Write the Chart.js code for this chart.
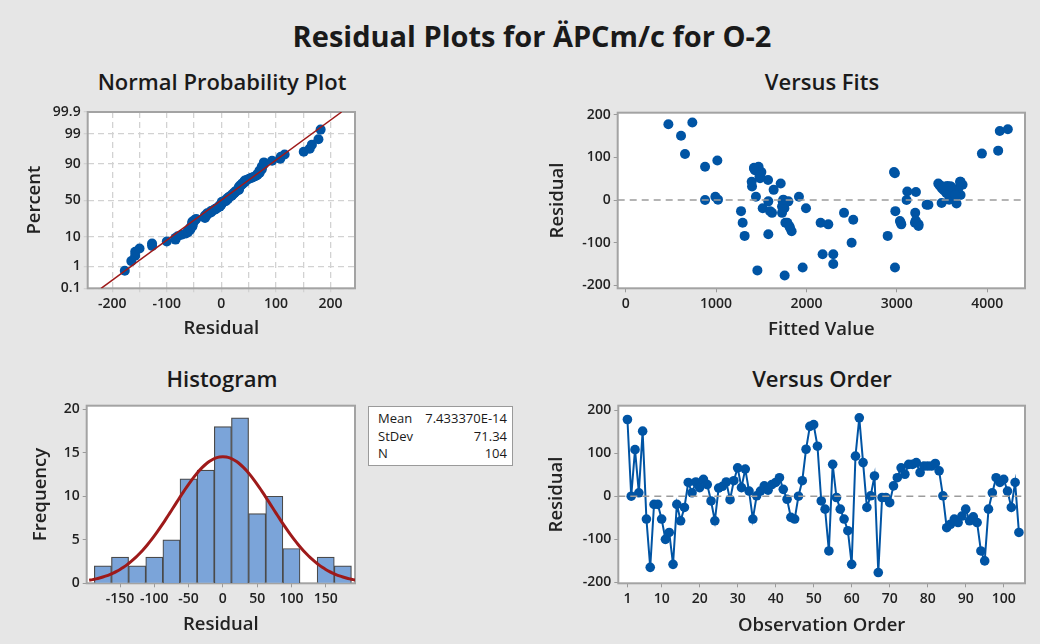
<!DOCTYPE html>
<html>
<head>
<meta charset="utf-8">
<script src="https://cdn.jsdelivr.net/npm/chart.js@4.4.1/dist/chart.umd.min.js"></script>
<style>
    body { margin: 0; background: #e6e6e6; font-family: "Open Sans", sans-serif; }
    #wrap { position: relative; width: 1040px; height: 644px; overflow: hidden; }
    canvas { position: absolute; }
    .title { position: absolute; transform: translateX(-50%); white-space: nowrap; color: #1a1a1a; }
    #mainTitle { left: 532px; top: 16px; font-size: 29px; font-weight: 700; }
    .panel { font-size: 22px; font-weight: 600; }
    #stats { position: absolute; left: 368px; top: 406px; width: 143px; height: 58px; background: #fff;
             border: 1px solid #9a9a9a; font-size: 13px; color: #1a1a1a; }
    #stats div { position: absolute; left: 9px; right: 5px; height: 17px; }
    #stats span { position: absolute; right: 0; }
</style>
</head>
<body>
<div id="wrap">
    <div id="mainTitle" class="title">Residual Plots for ÄPCm/c for O-2</div>
    <div class="title panel" style="left:222px;top:66px">Normal Probability Plot</div>
    <div class="title panel" style="left:822px;top:66px">Versus Fits</div>
    <div class="title panel" style="left:222px;top:363px">Histogram</div>
    <div class="title panel" style="left:822px;top:363px">Versus Order</div>

    <canvas id="normChart" width="350" height="245" style="left:20px;top:100px"></canvas>
    <canvas id="fitsChart" width="500" height="245" style="left:540px;top:100px"></canvas>
    <canvas id="histChart" width="350" height="250" style="left:20px;top:390px"></canvas>
    <canvas id="orderChart" width="500" height="250" style="left:540px;top:390px"></canvas>

    <div id="stats">
        <div style="top:2px">Mean<span id="meanTxt"></span></div>
        <div style="top:20px">StDev<span id="sdTxt"></span></div>
        <div style="top:37px">N<span id="nTxt"></span></div>
    </div>
</div>
<script>
// residuals in observation order
const residuals = [178, 0, 108, 8, 151, -53, -165, -19, -19, -53,
    -100, -84, -158, -19, -57, -26, 32, 8, 33, 20,
    39, 27, -11, -57, 19, 23, 33, -8, 36, 66,
    20, 63, 12, -53, 1, 12, 24, 14, 27, 32,
    43, 16, -7, -49, -53, 0, 36, 109, 162, 166,
    116, -11, -30, -127, 74, -3, -30, -53, -80, -158,
    93, 182, 78, -26, 1, 47, -177, -3, -3, -15,
    24, 43, 66, 51, 74, 74, 78, 55, 70, 70,
    70, 76, 59, 1, -73, -65, -53, -61, -46, -30,
    -57, -48, -61, -127, -150, -30, 8, 43, 32, 39,
    12, -26, 32, -84];

// fitted value for each observation
const fitted = [472, 878, 656, 992, 612, 1294, 1457, 1516, 1995, 2157,
    2500, 1316, 1958, 1756, 2242, 1276, 1398, 1441, 3480, 3116,
    3459, 3500, 3330, 3241, 3212, 3520, 3560, 3661, 3728, 2969,
    3540, 2979, 3600, 3043, 3580, 3706, 3620, 3640, 3680, 3600,
    3706, 3550, 3496, 3035, 3201, 3108, 3470, 3942, 4140, 4229,
    4122, 3350, 3204, 2179, 1464, 1578, 1619, 1789, 1578, 2980,
    1014, 737, 878, 1597, 1021, 1575, 1759, 1800, 1737, 1730,
    1637, 1394, 1501, 1486, 1420, 1440, 1470, 1480, 1430, 1450,
    1460, 1420, 1490, 1744, 1836, 1818, 1767, 1810, 2518, 2416,
    3050, 3210, 3240, 2297, 2297, 1730, 1917, 3700, 3590, 1715,
    3650, 2984, 3520, 2899];

// histogram bins (centres) and counts
const binCenters = [-175, -150, -125, -100, -75, -50, -25, 0, 25, 50, 75, 100, 125, 150, 175];
const binCounts = [2, 3, 2, 3, 5, 12, 13, 18, 19, 8, 10, 4, 0, 3, 2];
const binWidth = 25;

// summary stats
const meanVal = 7.433370e-14;
const stdevVal = 71.34;
const nObs = 104;

// tick labels
const probTicks = [0.1, 1, 10, 50, 90, 99, 99.9];
const normXTicks = [-200, -100, 0, 100, 200];
const normXGrid = [-200, -150, -100, -50, 0, 50, 100, 150, 200];
const residTicks = [-200, -100, 0, 100, 200];
const fitsTicks = [0, 1000, 2000, 3000, 4000];
const histXTicks = [-150, -100, -50, 0, 50, 100, 150];
const histYTicks = [0, 5, 10, 15, 20];
const orderTicks = [1, 10, 20, 30, 40, 50, 60, 70, 80, 90, 100];

document.getElementById('meanTxt').textContent = '7.433370E-14';
document.getElementById('sdTxt').textContent = stdevVal.toFixed(2);
document.getElementById('nTxt').textContent = nObs;

const BLUE = '#0054a4';
const RED = '#9e1a1a';

// inverse normal (Acklam)
function probit(p) {
    const a = [-3.969683028665376e+01, 2.209460984245205e+02, -2.759285104469687e+02, 1.383577518672690e+02, -3.066479806614716e+01, 2.506628277459239e+00];
    const b = [-5.447609879822406e+01, 1.615858368580409e+02, -1.556989798598866e+02, 6.680131188771972e+01, -1.328068155288572e+01];
    const c = [-7.784894002430293e-03, -3.223964580411365e-01, -2.400758277161838e+00, -2.549732539343734e+00, 4.374664141464968e+00, 2.938163982698783e+00];
    const d = [7.784695709041462e-03, 3.224671290700398e-01, 2.445134137142996e+00, 3.754408661907416e+00];
    const pl = 0.02425;
    if (p < pl) {
        const q = Math.sqrt(-2 * Math.log(p));
        return (((((c[0] * q + c[1]) * q + c[2]) * q + c[3]) * q + c[4]) * q + c[5]) / ((((d[0] * q + d[1]) * q + d[2]) * q + d[3]) * q + 1);
    }
    if (p > 1 - pl) {
        const q = Math.sqrt(-2 * Math.log(1 - p));
        return -(((((c[0] * q + c[1]) * q + c[2]) * q + c[3]) * q + c[4]) * q + c[5]) / ((((d[0] * q + d[1]) * q + d[2]) * q + d[3]) * q + 1);
    }
    const q = p - 0.5, r = q * q;
    return (((((a[0] * r + a[1]) * r + a[2]) * r + a[3]) * r + a[4]) * r + a[5]) * q / (((((b[0] * r + b[1]) * r + b[2]) * r + b[3]) * r + b[4]) * r + 1);
}

// white plot area + grey frame
const framePlugin = {
    id: 'frame',
    beforeDraw(chart) {
        const a = chart.chartArea, ctx = chart.ctx;
        ctx.save();
        ctx.fillStyle = '#fff';
        ctx.fillRect(a.left, a.top, a.right - a.left, a.bottom - a.top);
        ctx.restore();
    },
    beforeDatasetsDraw(chart) {
        const a = chart.chartArea, ctx = chart.ctx;
        ctx.save();
        ctx.strokeStyle = '#a3a3a3';
        ctx.lineWidth = 2;
        ctx.strokeRect(a.left, a.top, a.right - a.left, a.bottom - a.top);
        ctx.restore();
    }
};

const tickFont = { family: 'Open Sans', size: 14, weight: '600' };
const axisTitleFont = { family: 'Open Sans', size: 18.5, weight: '600' };

function makeScale(min, max, tickVals, fitSize, title, titlePad, extra) {
    return Object.assign({
        type: 'linear',
        min: min,
        max: max,
        afterBuildTicks: s => { s.ticks = tickVals.map(v => ({ value: v })); },
        afterFit: s => { if (s.isHorizontal()) s.height = fitSize; else s.width = fitSize; },
        ticks: { font: tickFont, color: '#222', padding: 3, maxRotation: 0, autoSkip: false, callback: v => String(v) },
        grid: { drawOnChartArea: false, tickLength: 4, color: '#9a9a9a' },
        border: { display: false },
        title: { display: true, text: title, font: axisTitleFont, color: '#222', padding: titlePad }
    }, extra || {});
}

function baseOptions(padding, xScale, yScale) {
    return {
        responsive: false,
        animation: false,
        layout: { padding: padding },
        plugins: { legend: { display: false }, tooltip: { enabled: false } },
        scales: { x: xScale, y: yScale }
    };
}

// Normal probability plot
const sorted = residuals.slice().sort((a, b) => a - b);
const probPoints = sorted.map((r, i) => ({ x: r, y: probit((i + 1 - 0.3) / (sorted.length + 0.4)) }));
const zLo = probit(probTicks[0] / 100), zHi = probit(probTicks[probTicks.length - 1] / 100);
const refLine = [{ x: meanVal + zLo * stdevVal, y: zLo }, { x: meanVal + zHi * stdevVal, y: zHi }];

const dashedGrid = { drawOnChartArea: true, tickLength: 4, color: '#d2d2d2', lineWidth: 1.3 };

new Chart(document.getElementById('normChart'), {
    type: 'scatter',
    data: {
        datasets: [
            { data: refLine, showLine: true, pointRadius: 0, borderColor: RED, borderWidth: 1.5 },
            { data: probPoints, pointRadius: 5, backgroundColor: BLUE, borderColor: BLUE, borderWidth: 0 }
        ]
    },
    options: baseOptions({ top: 12, right: 15, left: 0, bottom: 0 },
        makeScale(-245, 245, normXGrid, 56.7, 'Residual', { top: 0, bottom: 5 }, {
            grid: dashedGrid,
            border: { display: false, dash: [6, 4] },
            ticks: { font: tickFont, color: '#222', padding: 3, maxRotation: 0, autoSkip: false,
                     callback: v => normXTicks.includes(v) ? String(v) : '' }
        }),
        makeScale(zLo, zHi, probTicks.map(p => probit(p / 100)), 67.7, 'Percent', { top: 4, bottom: 0 }, {
            grid: dashedGrid,
            border: { display: false, dash: [6, 4] },
            ticks: { font: tickFont, color: '#222', padding: 3, autoSkip: false,
                     callback: (v, i) => String(probTicks[i]) }
        })),
    plugins: [framePlugin]
});

// Versus fits
const fitsMin = -89, fitsMax = 4419;
new Chart(document.getElementById('fitsChart'), {
    type: 'scatter',
    data: {
        datasets: [
            { data: [{ x: fitsMin, y: 0 }, { x: fitsMax, y: 0 }], showLine: true, pointRadius: 0,
              borderColor: '#9c9c9c', borderWidth: 1.6, borderDash: [7, 5] },
            { data: fitted.map((f, i) => ({ x: f, y: residuals[i] })), pointRadius: 5,
              backgroundColor: BLUE, borderColor: BLUE, borderWidth: 0 }
        ]
    },
    options: baseOptions({ top: 12.7, right: 15, left: 0, bottom: 0 },
        makeScale(fitsMin, fitsMax, fitsTicks, 56.7, 'Fitted Value', { top: 0, bottom: 4 }),
        makeScale(-207, 205, residTicks, 77.7, 'Residual', { top: 7, bottom: 0 })),
    plugins: [framePlugin]
});

// Histogram with fitted normal curve
const curve = [];
for (let x = -195; x <= 195; x += 5) {
    const z = (x - meanVal) / stdevVal;
    curve.push({ x: x, y: nObs * binWidth * Math.exp(-0.5 * z * z) / (stdevVal * Math.sqrt(2 * Math.PI)) });
}
const histX = makeScale(-198.6, 192.7, histXTicks, 56.7, 'Residual', { top: 0, bottom: 4 });
histX.offset = false;
histX.grid.offset = false;
new Chart(document.getElementById('histChart'), {
    type: 'bar',
    data: {
        datasets: [
            { type: 'line', data: curve, borderColor: RED, borderWidth: 3, pointRadius: 0, tension: 0.3, order: 0 },
            { type: 'bar', data: binCenters.map((c, i) => ({ x: c, y: binCounts[i] })),
              backgroundColor: '#7ba4d9', borderColor: '#4a4a4a', borderWidth: 1.2,
              barPercentage: 1, categoryPercentage: 1, order: 1 }
        ]
    },
    options: baseOptions({ top: 15.7, right: 15, left: 0, bottom: 0 },
        histX,
        makeScale(0, 20.4, histYTicks, 66.7, 'Frequency', { top: 10, bottom: 0 })),
    plugins: [framePlugin]
});

// Versus order
const orderMin = -1.4, orderMax = 105.6;
new Chart(document.getElementById('orderChart'), {
    type: 'scatter',
    data: {
        datasets: [
            { data: [{ x: orderMin, y: 0 }, { x: orderMax, y: 0 }], showLine: true, pointRadius: 0,
              borderColor: '#9c9c9c', borderWidth: 1.6, borderDash: [7, 5] },
            { data: residuals.map((r, i) => ({ x: i + 1, y: r })), showLine: true,
              borderColor: BLUE, borderWidth: 2, pointRadius: 4.8, backgroundColor: BLUE, pointBorderWidth: 0 }
        ]
    },
    options: baseOptions({ top: 15.7, right: 15, left: 0, bottom: 0 },
        makeScale(orderMin, orderMax, orderTicks, 56.7, 'Observation Order', { top: 0, bottom: 3 }),
        makeScale(-202, 210, residTicks, 78.3, 'Residual', { top: 6, bottom: 0 })),
    plugins: [framePlugin]
});
</script>
</body>
</html>
